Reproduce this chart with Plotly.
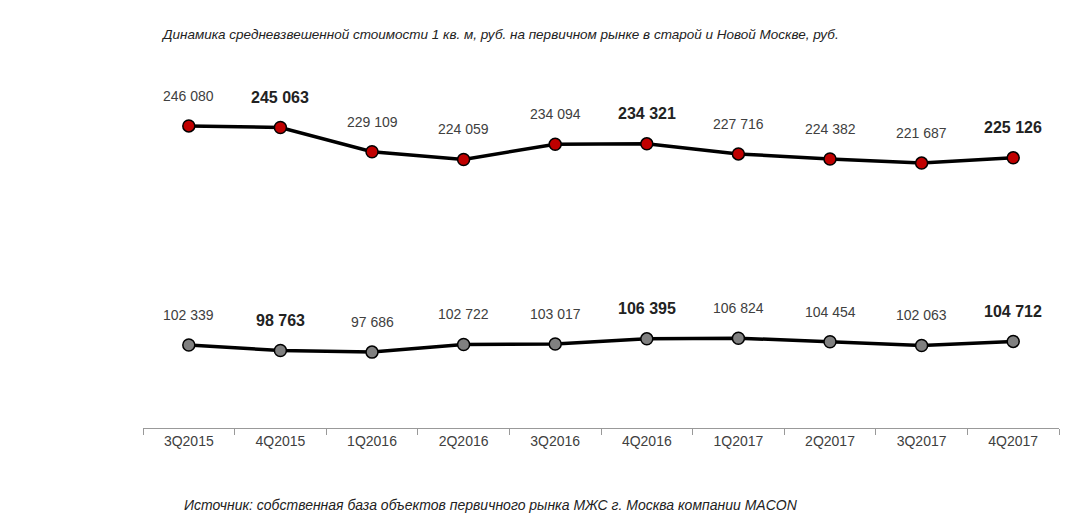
import plotly.graph_objects as go

categories = ["3Q2015","4Q2015","1Q2016","2Q2016","3Q2016","4Q2016","1Q2017","2Q2017","3Q2017","4Q2017"]
old_moscow = [246080,245063,229109,224059,234094,234321,227716,224382,221687,225126]
new_moscow = [102339,98763,97686,102722,103017,106395,106824,104454,102063,104712]
bold_idx = [1,5,9]

def fmt(v):
    return f"{v:,}".replace(",", " ")

fig = go.Figure()
for vals, col in [(old_moscow, "#c00000"), (new_moscow, "#808080")]:
    fig.add_trace(go.Scatter(x=categories, y=vals, mode="lines+markers",
        line=dict(color="black", width=3.5),
        marker=dict(size=12, color=col, line=dict(color="black", width=1.5)),
        hoverinfo="skip"))
    for i, (c, v) in enumerate(zip(categories, vals)):
        b = i in bold_idx
        fig.add_annotation(x=c, y=v, text=f"<b>{fmt(v)}</b>" if b else fmt(v),
            showarrow=False, yshift=30,
            font=dict(size=16 if b else 14, color="#222" if b else "#404040",
                      family="Liberation Sans Narrow, Liberation Sans, Arial"))

fig.update_layout(
    width=1074, height=527, showlegend=False,
    plot_bgcolor="white", paper_bgcolor="white",
    margin=dict(l=135, r=23, t=72, b=107, autoexpand=False),
    font=dict(family="Liberation Sans Narrow, Liberation Sans, Arial", color="#404040", size=14),
    xaxis=dict(showline=True, linecolor="#999", linewidth=1, ticks="outside",
               tickson="boundaries", ticklen=6, tickcolor="#999", showgrid=False,
               range=[-0.5, 9.5], automargin=False,
               tickfont=dict(size=14, color="#404040")),
    yaxis=dict(visible=False, range=[47900, 276200], automargin=False),
)
fig.add_annotation(text="<i>Динамика средневзвешенной стоимости 1 кв. м, руб. на первичном рынке в старой и Новой Москве, руб.</i>",
    xref="paper", yref="paper", x=0.39, y=1, yshift=55, showarrow=False,
    font=dict(size=13.5, color="#222"))
fig.add_annotation(text="<i>Источник: собственная база объектов первичного рынка МЖС г. Москва компании MACON</i>",
    xref="paper", yref="paper", x=0.38, y=0, yshift=-87, showarrow=False,
    font=dict(size=14, color="#222"))
fig.write_html("out.html")
